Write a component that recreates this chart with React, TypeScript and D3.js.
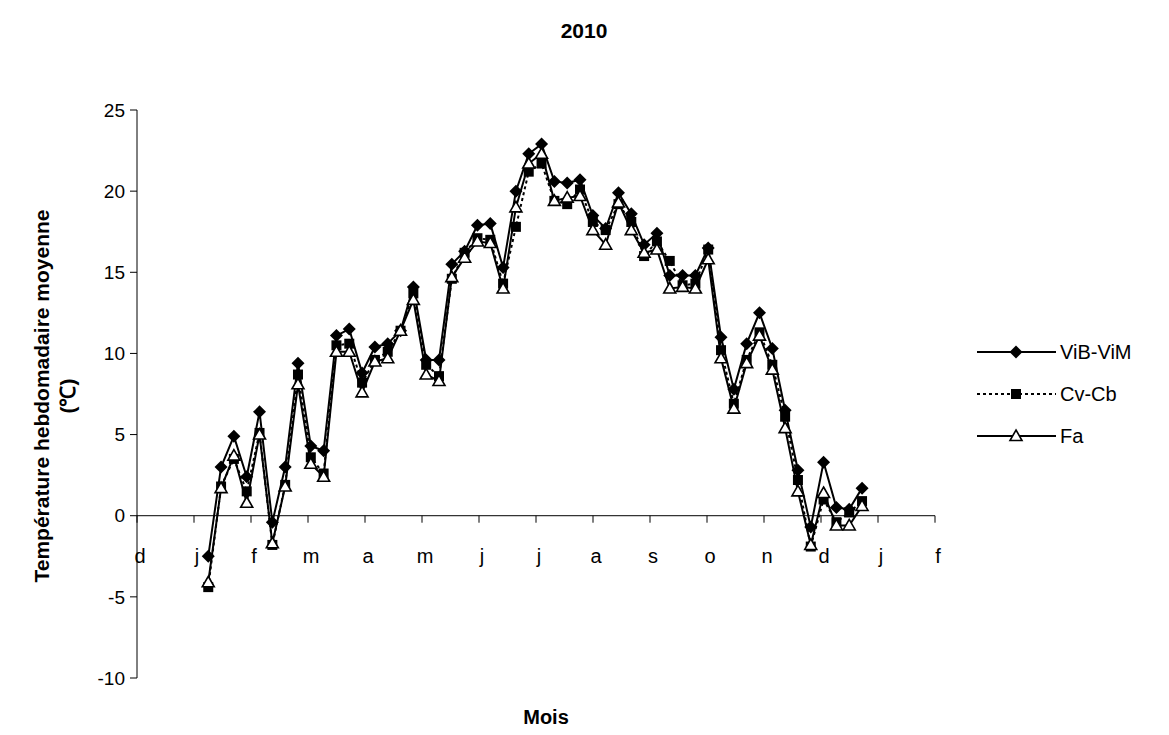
import React from "react";
import * as d3 from "d3";

const monthLabels = ["d", "j", "f", "m", "a", "m", "j", "j", "a", "s", "o", "n", "d", "j", "f"];
const yTicks = [-10, -5, 0, 5, 10, 15, 20, 25];

// weekly mean temperatures, 2010 (52 weeks)
const vibVim = [-2.5, 3.0, 4.9, 2.4, 6.4, -0.4, 3.0, 9.4, 4.3, 4.0,
  11.1, 11.5, 8.8, 10.4, 10.6, 11.4, 14.1, 9.6, 9.6, 15.5,
  16.3, 17.9, 18.0, 15.3, 20.0, 22.3, 22.9, 20.6, 20.5, 20.7,
  18.5, 17.7, 19.9, 18.6, 16.7, 17.4, 14.8, 14.8, 14.8, 16.5,
  11.0, 7.8, 10.6, 12.5, 10.3, 6.5, 2.8, -0.7, 3.3, 0.5,
  0.4, 1.7];
const cvCb = [-4.4, 1.8, 3.5, 1.5, 5.1, -1.8, 1.9, 8.7, 3.6, 2.6,
  10.5, 10.6, 8.2, 9.6, 10.1, 11.4, 13.7, 9.3, 8.6, 14.6,
  16.2, 17.1, 17.0, 14.3, 17.8, 21.2, 21.7, 19.4, 19.2, 20.1,
  18.1, 17.6, 19.2, 18.1, 16.0, 16.9, 15.7, 14.2, 14.3, 16.4,
  10.2, 6.9, 9.6, 11.3, 9.3, 6.1, 2.2, -1.9, 1.0, -0.4,
  0.2, 0.9];
const fa = [-4.1, 1.7, 3.7, 0.8, 5.0, -1.7, 1.8, 8.1, 3.2, 2.4,
  10.1, 10.1, 7.6, 9.5, 9.7, 11.4, 13.3, 8.7, 8.3, 14.7,
  15.9, 16.9, 16.8, 14.0, 19.0, 21.7, 22.3, 19.4, 19.6, 19.7,
  17.6, 16.7, 19.3, 17.6, 16.2, 16.4, 14.0, 14.1, 14.0, 15.8,
  9.7, 6.6, 9.4, 11.1, 9.0, 5.4, 1.5, -1.8, 1.4, -0.6,
  -0.6, 0.6];

// position of first and last week along the month axis (in months from first tick)
const firstWeekPos = 1.25;
const lastWeekPos = 12.72;

const seriesNames = ["ViB-ViM", "Cv-Cb", "Fa"];

const FONT = "'Liberation Sans', Arial, sans-serif";

function Marker({ kind, x, y }: { kind: string; x: number; y: number }) {
  if (kind === "diamond") {
    const s = 6.5;
    return <path d={`M${x},${y - s}L${x + s},${y}L${x},${y + s}L${x - s},${y}Z`} fill="#000" />;
  }
  if (kind === "square") {
    const s = 5;
    return <rect x={x - s} y={y - s} width={2 * s} height={2 * s} fill="#000" />;
  }
  return (
    <path
      d={`M${x},${y - 6}L${x + 6},${y + 4.5}L${x - 6},${y + 4.5}Z`}
      fill="#fff"
      stroke="#000"
      strokeWidth={1.6}
      strokeLinejoin="miter"
    />
  );
}

export default function App() {
  const W = 1169;
  const H = 735;
  const x0 = 137;
  const x1 = 935;
  const yTop = 110;
  const yBot = 678;

  const xMonth = d3.scaleLinear().domain([0, monthLabels.length - 1]).range([x0, x1]);
  const y = d3.scaleLinear().domain([-10, 25]).range([yBot, yTop]);
  const xWeek = d3
    .scaleLinear()
    .domain([0, vibVim.length - 1])
    .range([xMonth(firstWeekPos), xMonth(lastWeekPos)]);

  const line = d3
    .line<number>()
    .x((_, i) => xWeek(i))
    .y((d) => y(d));

  const series = [
    { name: seriesNames[0], values: vibVim, marker: "diamond", dash: undefined as string | undefined },
    { name: seriesNames[1], values: cvCb, marker: "square", dash: "3,3" },
    { name: seriesNames[2], values: fa, marker: "triangle", dash: undefined },
  ];

  const legendY = [352, 394, 436];

  return (
    <svg
      width={W}
      height={H}
      style={{ position: "absolute", left: 0, top: 0, background: "#fff" }}
      fontFamily={FONT}
    >
      <rect x={0} y={0} width={W} height={H} fill="#fff" />
      {/* title */}
      <text x={584} y={38} textAnchor="middle" fontSize={21} fontWeight="bold">
        2010
      </text>

      {/* y axis */}
      <line x1={x0} x2={x0} y1={yTop} y2={yBot} stroke="#000" strokeWidth={1} />
      {yTicks.map((t) => (
        <g key={t}>
          <line x1={x0 - 7} x2={x0} y1={y(t)} y2={y(t)} stroke="#000" />
          <text x={125} y={y(t)} dy="0.35em" textAnchor="end" fontSize={19}>
            {t}
          </text>
        </g>
      ))}

      {/* x axis at 0 */}
      <line x1={x0} x2={x1} y1={y(0)} y2={y(0)} stroke="#000" strokeWidth={1} />
      {monthLabels.map((m, i) => (
        <g key={i}>
          <line x1={xMonth(i)} x2={xMonth(i)} y1={y(0)} y2={y(0) + 7} stroke="#000" />
          <text x={xMonth(i) + 3} y={563} textAnchor="middle" fontSize={20}>
            {m}
          </text>
        </g>
      ))}

      {/* axis titles */}
      <text x={546} y={724} textAnchor="middle" fontSize={20} fontWeight="bold">
        Mois
      </text>
      <g transform={`translate(49,396) rotate(-90)`}>
        <text x={0} y={0} textAnchor="middle" fontSize={21} fontWeight="bold">
          Température hebdomadaire moyenne
        </text>
        <text x={0} y={26} textAnchor="middle" fontSize={21} fontWeight="bold">
          (℃)
        </text>
      </g>

      {/* series */}
      {series.map((s) => (
        <g key={s.name}>
          <path
            d={line(s.values) || ""}
            fill="none"
            stroke="#000"
            strokeWidth={2}
            strokeDasharray={s.dash}
          />
          {s.values.map((v, i) => (
            <Marker key={i} kind={s.marker} x={xWeek(i)} y={y(v)} />
          ))}
        </g>
      ))}

      {/* legend */}
      {series.map((s, k) => (
        <g key={s.name}>
          <line
            x1={977}
            x2={1056}
            y1={legendY[k]}
            y2={legendY[k]}
            stroke="#000"
            strokeWidth={2}
            strokeDasharray={s.dash}
          />
          <Marker kind={s.marker} x={1016} y={legendY[k]} />
          <text x={1060} y={legendY[k]} dy="0.35em" fontSize={20}>
            {s.name}
          </text>
        </g>
      ))}
    </svg>
  );
}
